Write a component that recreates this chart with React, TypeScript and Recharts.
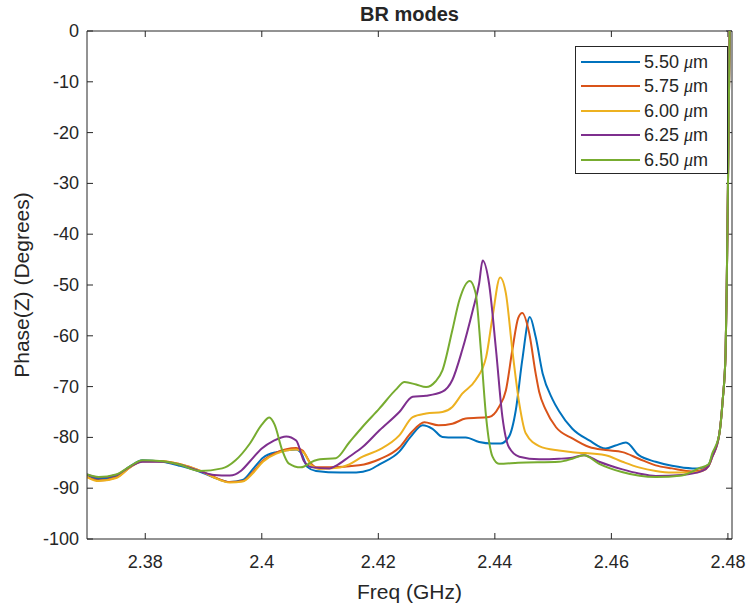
import React from 'react';
import { LineChart, Line, XAxis, YAxis, ReferenceLine } from 'recharts';

const FONT = '"Liberation Sans", Arial, Helvetica, sans-serif';
const INK = '#262626';

const freqTicks = [2.38, 2.4, 2.42, 2.44, 2.46, 2.48];
const phaseTicks = [0, -10, -20, -30, -40, -50, -60, -70, -80, -90, -100];
const freqDomain = [2.37, 2.4807];
const phaseDomain = [-100, 0];

const seriesNames = ['5.50', '5.75', '6.00', '6.25', '6.50'];
const seriesColors = ['#0072BD', '#D95319', '#EDB120', '#7E2F8E', '#77AC30'];

// Shared steep rise towards the upper band edge
const tailFreq = [2.4785, 2.4791, 2.4796, 2.4798, 2.48, 2.4803];
const tailPhase = [-79.5, -72.7, -63.4, -50.0, -31.0, 0];

const freq550 = [2.37, 2.372, 2.375, 2.3775, 2.3795, 2.383, 2.386, 2.3895, 2.3918, 2.3945, 2.3967, 2.3985, 2.4002, 2.4025, 2.4059, 2.4068, 2.4078, 2.4093, 2.4135, 2.4162, 2.4185, 2.4202, 2.4236, 2.4256, 2.4276, 2.4293, 2.431, 2.433, 2.435, 2.4373, 2.4395, 2.441, 2.4424, 2.4436, 2.4447, 2.446, 2.447, 2.4482, 2.4499, 2.451, 2.4533, 2.4562, 2.459, 2.4607, 2.4625, 2.4647, 2.4676, 2.4704, 2.4739, 2.4756, 2.4767, 2.4773];
const phase550 = [-87.3, -88.2, -87.6, -85.6, -84.5, -84.8, -85.6, -86.8, -87.9, -88.8, -88.4, -86.2, -84.0, -82.9, -82.4, -83.2, -85.8, -86.6, -86.9, -86.9, -86.4, -85.3, -82.8, -79.8, -77.6, -78.3, -79.9, -80.0, -80.0, -80.9, -81.2, -81.2, -79.9, -74.6, -64.8, -56.3, -60.2, -67.4, -72.5, -74.8, -78.3, -80.6, -82.2, -81.6, -81.0, -83.5, -84.8, -85.6, -86.1, -86.0, -85.3, -83.6];

const freq575 = [2.37, 2.372, 2.375, 2.3775, 2.3795, 2.383, 2.386, 2.3895, 2.3918, 2.3945, 2.3967, 2.3985, 2.4002, 2.4025, 2.4059, 2.407, 2.4082, 2.4095, 2.4116, 2.4167, 2.4202, 2.4236, 2.4257, 2.4279, 2.4303, 2.4327, 2.435, 2.439, 2.4407, 2.4419, 2.443, 2.444, 2.4447, 2.4459, 2.447, 2.4476, 2.4487, 2.4505, 2.4533, 2.4562, 2.459, 2.4619, 2.4647, 2.4676, 2.4704, 2.4739, 2.4756, 2.4767, 2.4773];
const phase575 = [-87.8, -88.5, -87.9, -85.8, -84.7, -84.7, -85.3, -86.6, -87.8, -88.8, -88.6, -86.8, -84.6, -83.0, -82.1, -82.6, -84.8, -85.9, -85.9, -85.5, -84.3, -82.0, -79.0, -77.0, -77.6, -77.3, -76.3, -76.0, -74.0, -70.7, -62.8, -56.5, -55.5, -59.5, -67.4, -71.0, -74.5, -78.0, -80.2, -81.9, -82.5, -82.9, -84.2, -85.5, -86.1, -86.7, -86.4, -85.5, -83.8];

const freq600 = [2.37, 2.372, 2.375, 2.3775, 2.3795, 2.383, 2.386, 2.3895, 2.3918, 2.3945, 2.3967, 2.3985, 2.4002, 2.4025, 2.4059, 2.4072, 2.4085, 2.4098, 2.413, 2.415, 2.4173, 2.4202, 2.4236, 2.4259, 2.4282, 2.431, 2.4327, 2.4344, 2.4367, 2.4385, 2.4396, 2.4409, 2.4419, 2.443, 2.4442, 2.4453, 2.4476, 2.451, 2.4533, 2.459, 2.4619, 2.4647, 2.4676, 2.4704, 2.4739, 2.4756, 2.4767, 2.4773];
const phase600 = [-87.8, -88.6, -88.0, -85.8, -84.7, -84.7, -85.3, -86.6, -87.9, -88.9, -88.7, -87.0, -84.8, -83.2, -82.4, -83.0, -85.5, -86.2, -86.0, -85.3, -83.8, -82.4, -79.6, -76.0, -75.3, -75.0, -74.0, -71.4, -68.7, -64.2, -56.3, -48.5, -51.7, -62.8, -73.4, -79.2, -81.7, -82.6, -82.9, -83.5, -84.8, -85.9, -86.6, -86.9, -86.9, -86.6, -85.6, -83.9];

const freq625 = [2.37, 2.372, 2.375, 2.3775, 2.3795, 2.383, 2.386, 2.3895, 2.3918, 2.3945, 2.3965, 2.3979, 2.4, 2.402, 2.4042, 2.4059, 2.4073, 2.4087, 2.4116, 2.4127, 2.415, 2.4173, 2.4202, 2.4236, 2.4259, 2.4282, 2.431, 2.4327, 2.4344, 2.4362, 2.4373, 2.4379, 2.439, 2.4402, 2.4413, 2.4424, 2.4442, 2.4476, 2.451, 2.4533, 2.4553, 2.4579, 2.4619, 2.4647, 2.4676, 2.4721, 2.4756, 2.4767, 2.4773];
const phase625 = [-87.3, -87.9, -87.4, -85.7, -84.8, -84.8, -85.4, -86.7, -87.4, -87.5, -86.5, -84.8, -82.2, -80.7, -79.8, -80.6, -84.8, -85.9, -86.1, -85.6, -83.8, -81.9, -78.6, -75.0, -72.0, -71.8, -71.0, -68.7, -62.8, -55.0, -49.7, -45.2, -49.7, -62.8, -76.0, -81.9, -83.8, -84.3, -84.2, -84.0, -83.5, -84.8, -86.3, -87.1, -87.6, -87.4, -86.6, -85.6, -83.9];

const freq650 = [2.37, 2.372, 2.375, 2.3775, 2.3795, 2.383, 2.386, 2.3893, 2.3932, 2.3955, 2.3979, 2.4, 2.4013, 2.4022, 2.4035, 2.4046, 2.4067, 2.409, 2.41, 2.4127, 2.415, 2.4173, 2.4202, 2.423, 2.4245, 2.4265, 2.4282, 2.4298, 2.431, 2.4327, 2.4339, 2.4357, 2.4367, 2.4376, 2.4385, 2.4396, 2.4407, 2.444, 2.451, 2.4533, 2.4553, 2.4579, 2.4618, 2.4676, 2.4721, 2.475, 2.4767, 2.4773];
const phase650 = [-87.3, -87.8, -87.3, -85.6, -84.5, -84.7, -85.4, -86.6, -86.1, -84.5, -81.3, -77.5, -76.1, -77.5, -82.5, -85.1, -85.9, -84.6, -84.3, -84.1, -81.0, -77.9, -74.3, -70.6, -69.1, -69.6, -70.1, -69.0, -66.8, -58.9, -53.0, -49.2, -51.6, -62.8, -76.0, -83.8, -85.2, -85.0, -84.8, -84.2, -83.5, -85.2, -86.8, -87.8, -87.5, -86.1, -85.3, -83.2];

const toRows = (f: number[], p: number[]) =>
  f.concat(tailFreq).map((x, i) => ({ f: x, p: p.concat(tailPhase)[i] }));

const seriesRows = [
  toRows(freq550, phase550),
  toRows(freq575, phase575),
  toRows(freq600, phase600),
  toRows(freq625, phase625),
  toRows(freq650, phase650),
];

const TICK_FONT = 18;
const TICK_LEN = 6;

const LeftTick = (props: any) => {
  const { x, y, payload } = props;
  return (
    <g>
      <text x={x} y={y} textAnchor="end" dominantBaseline="central" fill={INK} fontSize={TICK_FONT} fontFamily={FONT}>
        {payload.value}
      </text>
      <line x1={x + 8} x2={x + 8 + TICK_LEN} y1={y} y2={y} stroke={INK} strokeWidth={1} />
    </g>
  );
};

const BottomTick = (props: any) => {
  const { x, y, payload } = props;
  return (
    <g>
      <text x={x} y={y} textAnchor="middle" dominantBaseline="central" fill={INK} fontSize={TICK_FONT} fontFamily={FONT}>
        {String(payload.value)}
      </text>
      <line x1={x} x2={x} y1={y - 23} y2={y - 23 - TICK_LEN} stroke={INK} strokeWidth={1} />
    </g>
  );
};

// Inward tick marks hanging from the top edge of the box
const TopTickShape = (props: any) => {
  const { x1, y1, y2 } = props;
  const top = Math.min(y1, y2);
  return <line x1={x1} x2={x1} y1={top} y2={top + TICK_LEN} stroke={INK} strokeWidth={1} />;
};

// Inward tick marks on the right edge of the box
const RightTickShape = (props: any) => {
  const { x1, x2, y1 } = props;
  const right = Math.max(x1, x2);
  return <line x1={right - TICK_LEN} x2={right} y1={y1} y2={y1} stroke={INK} strokeWidth={1} />;
};

const centered: React.CSSProperties = {
  position: 'absolute',
  transform: 'translate(-50%, -50%)',
  whiteSpace: 'nowrap',
  color: INK,
  fontFamily: FONT,
};

export default function App() {
  return (
    <div style={{ position: 'absolute', left: 0, top: 0, width: 749, height: 604, background: '#fff' }}>
      <LineChart width={749} height={604} margin={{ top: 31, right: 17, bottom: 0, left: 0 }}>
        <XAxis
          type="number"
          dataKey="f"
          domain={freqDomain}
          ticks={freqTicks}
          allowDataOverflow
          height={65}
          tickSize={0}
          tickMargin={23}
          tickLine={false}
          axisLine={{ stroke: INK, strokeWidth: 1 }}
          tick={<BottomTick />}
          interval={0}
        />
        <YAxis
          type="number"
          domain={phaseDomain}
          ticks={phaseTicks}
          allowDataOverflow
          width={87}
          tickSize={0}
          tickMargin={8}
          tickLine={false}
          axisLine={{ stroke: INK, strokeWidth: 1 }}
          tick={<LeftTick />}
          interval={0}
        />
        {/* box: top and right edges with their inward ticks */}
        <ReferenceLine y={phaseDomain[1]} stroke={INK} strokeWidth={1} ifOverflow="extendDomain" />
        <ReferenceLine x={freqDomain[1]} stroke={INK} strokeWidth={1} ifOverflow="extendDomain" />
        {freqTicks.map((t) => (
          <ReferenceLine key={`tt${t}`} x={t} shape={<TopTickShape />} />
        ))}
        {phaseTicks.map((t) => (
          <ReferenceLine key={`rt${t}`} y={t} shape={<RightTickShape />} />
        ))}
        {seriesRows.map((rows, i) => (
          <Line
            key={seriesNames[i]}
            data={rows}
            dataKey="p"
            type="monotone"
            stroke={seriesColors[i]}
            strokeWidth={2}
            dot={false}
            activeDot={false}
            isAnimationActive={false}
          />
        ))}
      </LineChart>

      <div style={{ ...centered, left: 409.5, top: 14, fontSize: 20, fontWeight: 'bold' }}>BR modes</div>
      <div style={{ ...centered, left: 409.5, top: 592, fontSize: 21 }}>Freq (GHz)</div>
      <div style={{ ...centered, left: 22, top: 285, fontSize: 21, transform: 'translate(-50%, -50%) rotate(-90deg)' }}>
        Phase(Z) (Degrees)
      </div>

      <div
        style={{
          position: 'absolute',
          left: 575,
          top: 46,
          width: 151,
          height: 126,
          border: `1px solid ${INK}`,
          background: '#fff',
          fontFamily: FONT,
          color: INK,
        }}
      >
        {seriesNames.map((name, i) => (
          <div key={name} style={{ position: 'absolute', left: 0, top: 3 + i * 24.4, height: 24, width: 151 }}>
            <svg width={60} height={24} style={{ position: 'absolute', left: 5, top: 0 }}>
              <line x1={0} x2={59} y1={12} y2={12} stroke={seriesColors[i]} strokeWidth={2} />
            </svg>
            <span style={{ position: 'absolute', left: 68, top: 12, transform: 'translateY(-50%)', fontSize: 18, whiteSpace: 'nowrap' }}>
              {name} <span style={{ fontFamily: '"Liberation Serif", "Times New Roman", serif', fontStyle: 'italic' }}>μ</span>m
            </span>
          </div>
        ))}
      </div>
    </div>
  );
}
